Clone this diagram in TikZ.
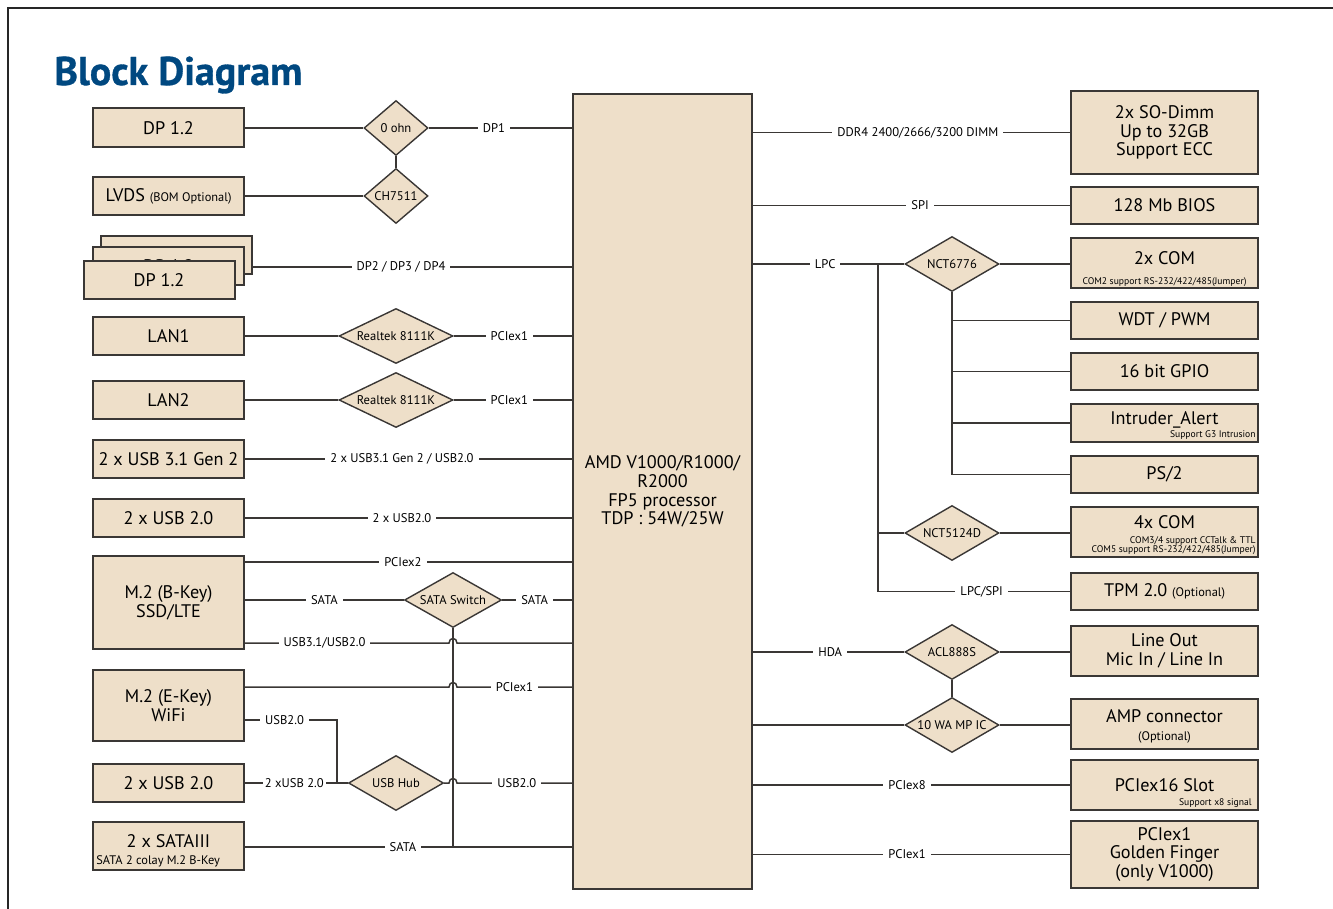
\documentclass[tikz,border=0pt]{standalone}
\usepackage{fontspec}
\setmainfont{PT Sans}
\newfontfamily\titlefont{PT Sans}[FakeBold=0.8]
\usetikzlibrary{shapes.geometric}

\definecolor{boxfill}{RGB}{238,223,201}
\definecolor{boxline}{RGB}{58,55,53}
\definecolor{titleblue}{RGB}{0,72,128}

\newcommand{\notefont}{\fontsize{6.2}{7}\selectfont}
\newcommand{\tinyfont}{\fontsize{4.8}{4.6}\selectfont}

\tikzset{
  blk/.style={draw=boxline, line width=1pt, fill=boxfill, inner sep=1pt, align=center,
    font=\fontsize{9.1}{9.3}\selectfont},
  lftblk/.style={blk, minimum width=75.5pt, minimum height=19pt},
  rgtblk/.style={blk, minimum width=93.5pt, minimum height=18.5pt},
  chip/.style={diamond, draw=boxline, line width=0.7pt, fill=boxfill, inner sep=0pt,
    minimum width=47pt, minimum height=27.5pt, font=\fontsize{6.3}{7}\selectfont},
  wire/.style={draw=boxline, line width=0.75pt},
  lbl/.style={fill=white, inner xsep=2.5pt, inner ysep=1pt, font=\fontsize{6.3}{7}\selectfont},
  note/.style={inner sep=1.5pt, font=\tinyfont, align=right},
}

\begin{document}
\begin{tikzpicture}[x=0.5pt, y=-0.5pt]
  \useasboundingbox (0,0) rectangle (1333,909);
  \draw[line width=1.4pt, black!85] (8,909) -- (8,8) -- (1333,8);
  \node[anchor=base west, inner sep=0pt, text=titleblue,
    font=\titlefont\bfseries\fontsize{20}{20}\selectfont] (title) at (54,85) {Block Diagram};

  % processor
  \node[blk, minimum width=89.5pt, minimum height=397.5pt] (cpu) at (662.5,491.5)
    {AMD V1000/R1000/\\R2000\\FP5 processor\\TDP : 54W/25W};

  % left blocks
  \node[lftblk, minimum height=19.5pt] (dpA) at (168.5,128) {DP 1.2};
  \node[lftblk] (lvds) at (168.5,196) {LVDS {\notefont(BOM Optional)}};
  \node[lftblk] (dpC) at (176.5,255) {};
  \node[lftblk] (dpB) at (168.5,266) {DP 1.2};
  \node[lftblk] (dpF) at (159,280) {DP 1.2};
  \node[lftblk] (lanA) at (168.5,336) {LAN1};
  \node[lftblk] (lanB) at (168.5,400) {LAN2};
  \node[lftblk] (usbC) at (168.5,459) {2 x USB 3.1 Gen 2};
  \node[lftblk] (usbD) at (168.5,518) {2 x USB 2.0};
  \node[lftblk, minimum height=46.5pt] (mB) at (168.5,602.5) {M.2 (B-Key)\\SSD/LTE};
  \node[lftblk, minimum height=35.5pt] (mE) at (168.5,705.5) {M.2 (E-Key)\\WiFi};
  \node[lftblk] (usbE) at (168.5,783) {2 x USB 2.0};
  \node[lftblk, minimum height=24pt, text depth=5pt] (sata) at (168.5,846) {2 x SATAIII};
  \node[note, anchor=south west, font=\notefont, inner sep=2pt] (sataN) at (sata.south west) {SATA 2 colay M.2 B-Key};

  % left chips
  \node[chip, minimum width=32pt] (ohm) at (396,128) {\makebox[0pt]{0 ohn}};
  \node[chip, minimum width=32pt] (ch) at (396,196) {\makebox[0pt]{CH7511}};
  \node[chip, minimum width=57pt] (rtA) at (396,336) {\makebox[0pt]{Realtek 8111K}};
  \node[chip, minimum width=57pt] (rtB) at (396,400) {\makebox[0pt]{Realtek 8111K}};
  \node[chip, minimum width=48.5pt] (sw) at (453,600) {\makebox[0pt]{SATA Switch}};
  \node[chip, minimum width=47.5pt] (hub) at (396,783) {\makebox[0pt]{USB Hub}};

  % right blocks
  \node[rgtblk, minimum height=41.5pt] (dimm) at (1164.5,132.5) {2x SO-Dimm\\Up to 32GB\\Support ECC};
  \node[rgtblk] (bios) at (1164.5,205.5) {128 Mb BIOS};
  \node[rgtblk, minimum height=25pt, text depth=5pt] (comA) at (1164.5,263) {2x COM};
  \node[note, anchor=base] (comAN) at ([yshift=2.2pt]comA.south) {COM2 support RS-232/422/485(Jumper)};
  \node[rgtblk] (wdt) at (1164.5,320.5) {WDT / PWM};
  \node[rgtblk] (gpio) at (1164.5,371.5) {16 bit GPIO};
  \node[rgtblk, minimum height=19pt, text depth=5pt] (intr) at (1164.5,423) {Intruder\_Alert};
  \node[note, anchor=south east] (intrN) at (intr.south east) {Support G3 Intrusion};
  \node[rgtblk] (ps2) at (1164.5,474.5) {PS/2};
  \node[rgtblk, minimum height=25pt, text depth=10pt] (comB) at (1164.5,532) {4x COM};
  \node[note, anchor=south east] (comBN) at (comB.south east)
    {COM3/4 support CCTalk \& TTL\\COM5 support RS-232/422/485(Jumper)};
  \node[rgtblk] (tpm) at (1164.5,591.5) {TPM 2.0 {\notefont(Optional)}};
  \node[rgtblk, minimum height=25pt] (audio) at (1164.5,651) {Line Out\\Mic In / Line In};
  \node[rgtblk, minimum height=25pt, text depth=8pt] (ampc) at (1164.5,724) {AMP connector};
  \node[anchor=base, inner sep=0pt, font=\notefont] (ampcN) at ([yshift=4.7pt]ampc.south) {(Optional)};
  \node[rgtblk, minimum height=25pt] (slot) at (1164.5,785) {PCIex16 Slot};
  \node[note, anchor=south east] (slotN) at ([xshift=-2pt]slot.south east) {Support x8 signal};
  \node[rgtblk, minimum height=33.5pt] (gold) at (1164.5,854.5) {PCIex1\\Golden Finger\\(only V1000)};

  % right chips
  \node[chip] (nctA) at (952,264) {\makebox[0pt]{NCT6776}};
  \node[chip] (nctB) at (952,533) {\makebox[0pt]{NCT5124D}};
  \node[chip] (codec) at (952,652) {\makebox[0pt]{ACL888S}};
  \node[chip] (amp) at (952,725) {\makebox[0pt]{10 WA MP IC}};

  % left connectors
  \draw[wire] (dpA.east) -- (ohm.west);
  \draw[wire] (ohm.east) -- node[lbl, pos=0.455] {DP1} (ohm.east -| cpu.west);
  \draw[wire] (ohm.south) -- (ch.north);
  \draw[wire] (lvds.east) -- (ch.west);
  \draw[wire] (dpC.east |- 0,267) -- node[lbl, pos=0.464] {DP2 / DP3 / DP4} (cpu.west |- 0,267);
  \draw[wire] (lanA.east) -- (rtA.west);
  \draw[wire] (rtA.east) -- node[lbl, pos=0.47] {PCIex1} (rtA.east -| cpu.west);
  \draw[wire] (lanB.east) -- (rtB.west);
  \draw[wire] (rtB.east) -- node[lbl, pos=0.47] {PCIex1} (rtB.east -| cpu.west);
  \draw[wire] (usbC.east) -- node[lbl, pos=0.48] {2 x USB3.1 Gen 2 / USB2.0} (usbC.east -| cpu.west);
  \draw[wire] (usbD.east) -- node[lbl, pos=0.48] {2 x USB2.0} (usbD.east -| cpu.west);
  \draw[wire] (mB.east |- 0,562) -- node[lbl, pos=0.483] {PCIex2} (cpu.west |- 0,562);
  \draw[wire] (mB.east |- sw.west) -- node[lbl, pos=0.5] {SATA} (sw.west);
  \draw[wire] (sw.east) -- node[lbl, pos=0.465] {SATA} (sw.east -| cpu.west);
  \draw[wire] (mB.east |- 0,643) -- node[lbl, pos=0.39] {USB3.1/USB2.0} (449,643)
    .. controls (449,637) and (457,637) .. (457,643) -- (cpu.west |- 0,643);
  \draw[wire] (mE.east |- 0,687) -- (449,687) .. controls (449,681) and (457,681) .. (457,687)
    -- node[lbl, pos=0.5] {PCIex1} (cpu.west |- 0,687);
  \draw[wire] (mE.east |- 0,720) -- node[lbl, pos=0.43] {USB2.0} (337,720) -- (337,783);
  \draw[wire] (usbE.east) -- node[lbl, pos=0.48, inner xsep=1pt] {2 xUSB 2.0} (hub.west);
  \draw[wire] (hub.east) -- (449,783) .. controls (449,777) and (457,777) .. (457,783)
    -- node[lbl, pos=0.52] {USB2.0} (cpu.west |- hub.east);
  \draw[wire] (sata.east |- 0,847) -- node[lbl, pos=0.483] {SATA} (cpu.west |- 0,847);
  \draw[wire] (sw.south) -- (sw.south |- 0,847);

  % right connectors
  \draw[wire] (cpu.east |- dimm.west) -- node[lbl, pos=0.52] {DDR4 2400/2666/3200 DIMM} (dimm.west);
  \draw[wire] (cpu.east |- bios.west) -- node[lbl, pos=0.527] {SPI} (bios.west);
  \draw[wire] (cpu.east |- nctA.west) -- node[lbl, pos=0.477] {LPC} (nctA.west);
  \draw[wire] (nctA.east) -- (nctA.east -| comA.west);
  \coordinate (lpcT) at (878,264);
  \draw[wire] (lpcT) |- (nctB.west);
  \draw[wire] (lpcT) |- node[lbl, pos=0.77] {LPC/SPI} (tpm.west);
  \draw[wire] (nctA.south) |- (ps2.west);
  \draw[wire] (nctA.south |- wdt.west) -- (wdt.west);
  \draw[wire] (nctA.south |- gpio.west) -- (gpio.west);
  \draw[wire] (nctA.south |- intr.west) -- (intr.west);
  \draw[wire] (nctB.east) -- (nctB.east -| comB.west);
  \draw[wire] (cpu.east |- codec.west) -- node[lbl, pos=0.51] {HDA} (codec.west);
  \draw[wire] (codec.east) -- (codec.east -| audio.west);
  \draw[wire] (codec.south) -- (amp.north);
  \draw[wire] (cpu.east |- amp.west) -- (amp.west);
  \draw[wire] (amp.east) -- (amp.east -| ampc.west);
  \draw[wire] (cpu.east |- slot.west) -- node[lbl, pos=0.486] {PCIex8} (slot.west);
  \draw[wire] (cpu.east |- gold.west) -- node[lbl, pos=0.486] {PCIex1} (gold.west);
\end{tikzpicture}
\end{document}
